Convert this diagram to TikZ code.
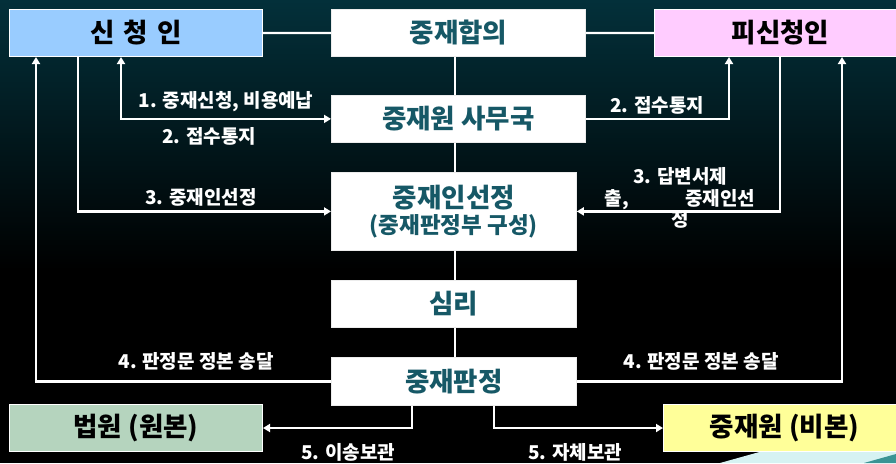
\documentclass[tikz,border=0pt]{standalone}
\usepackage{fontspec}
\setmainfont{Noto Sans CJK KR}
\usetikzlibrary{arrows.meta,calc}
\definecolor{bgtop}{RGB}{3,48,58}
\definecolor{boxtext}{RGB}{22,88,102}
\definecolor{cblue}{RGB}{153,204,255}
\definecolor{cpink}{RGB}{255,204,255}
\definecolor{cgreen}{RGB}{181,212,190}
\definecolor{cyellow}{RGB}{255,255,153}
\definecolor{decocyan}{RGB}{214,242,242}
\definecolor{decoteal}{RGB}{58,148,148}
\tikzset{
  titlefont/.style={font=\fontsize{26.5}{30}\selectfont\bfseries},
  whitebox/.style={draw=white!85!gray, line width=0.8pt, fill=white, text=boxtext, titlefont, anchor=north west, inner sep=0pt, align=center},
  colbox/.style={draw=white, line width=1pt, text=black, titlefont, anchor=north west, inner sep=0pt, align=center},
  conn/.style={draw=white, line width=2.3pt},
  tip/.style={-{Triangle[width=8pt,length=7pt]}},
  lbl/.style={text=white, font=\fontsize{19}{21.5}\selectfont\bfseries, inner sep=0pt, align=center}
}
\begin{document}
\begin{tikzpicture}[x=1pt,y=-1pt]
\useasboundingbox (0,0) rectangle (896,463);
\clip (0,0) rectangle (896,463);
% background
\fill[black] (0,0) rectangle (896,463);
\shade[top color=bgtop, bottom color=black] (0,0) rectangle (896,270);
% decoration
\fill[decocyan] (720,463) -- (763,451) -- (896,451) -- (896,463) -- cycle;
\fill[decoteal] (864,463) -- (896,454) -- (896,463) -- cycle;

% boxes
\node[colbox, fill=cblue, minimum width=253pt, minimum height=47pt] (sin) at (9,9) {신\hspace{0.35em}청\hspace{0.35em}인};
\node[whitebox, minimum width=254pt, minimum height=47pt] (hab) at (331,9) {중재합의};
\node[colbox, fill=cpink, minimum width=252pt, minimum height=47pt] (pi) at (654,9) {피신청인};
\node[whitebox, minimum width=254pt, minimum height=47pt] (sam) at (331,95) {중재원 사무국};
\node[whitebox, minimum width=245pt, minimum height=78pt] (sun) at (331,172) {중재인선정\\[-4pt]{\fontsize{22.5}{25}\selectfont (중재판정부 구성)}};
\node[whitebox, minimum width=245pt, minimum height=47pt] (sim) at (331,280) {심리};
\node[whitebox, minimum width=245pt, minimum height=48pt] (pan) at (331,357) {중재판정};
\node[colbox, fill=cgreen, minimum width=253pt, minimum height=47pt] (bub) at (9,404) {법원 (원본)};
\node[colbox, fill=cyellow, minimum width=242pt, minimum height=47pt] (bib) at (663,404) {중재원 (비본)};

% helper coordinates for connector columns
\coordinate (xA) at (36,0);
\coordinate (xB) at (78,0);
\coordinate (xC) at (121,0);
\coordinate (xD) at (729,0);
\coordinate (xE) at (780,0);
\coordinate (xF) at (842,0);
\coordinate (xG) at (412,0);
\coordinate (xH) at (494,0);
\coordinate (xM) at (455,0);

% central spine
\draw[conn] (hab.south -| xM) -- (sam.north -| xM);
\draw[conn] (sam.south -| xM) -- (sun.north -| xM);
\draw[conn] (sun.south -| xM) -- (sim.north -| xM);
\draw[conn] (sim.south -| xM) -- (pan.north -| xM);

% top links
\draw[conn] (sin.east) -- (hab.west);
\draw[conn] (hab.east) -- (pi.west);

% connectors
\draw[conn, {Triangle[width=8pt,length=7pt]}-{Triangle[width=8pt,length=7pt]}] (sin.south -| xC) |- (sam.west);
\draw[conn, tip] (sam.east) -| (pi.south -| xD);
\draw[conn, tip] (sin.south -| xB) |- (sun.west);
\draw[conn, tip] (pi.south -| xE) |- (sun.east);
\draw[conn, tip] (pan.west) -| (sin.south -| xA);
\draw[conn, tip] (pan.east) -| (pi.south -| xF);
\draw[conn, tip] (pan.south -| xG) |- (bub.east);
\draw[conn, tip] (pan.south -| xH) |- (bib.west);

% labels
\node[lbl] (l1) at (226,102) {1. 중재신청, 비용예납};
\node[lbl] (l2a) at (209,136) {2. 접수통지};
\node[lbl] (l2b) at (657,105) {2. 접수통지};
\node[lbl] (l3a) at (201,197) {3. 중재인선정};
\node[lbl] (l3b) at (680,198) {3. 답변서제\\출,\hspace{56pt}중재인선\\정};
\node[lbl] (l4a) at (196,361) {4. 판정문 정본 송달};
\node[lbl] (l4b) at (701,361) {4. 판정문 정본 송달};
\node[lbl] (l5a) at (348,452) {5. 이송보관};
\node[lbl] (l5b) at (575,452) {5. 자체보관};
\end{tikzpicture}
\end{document}
